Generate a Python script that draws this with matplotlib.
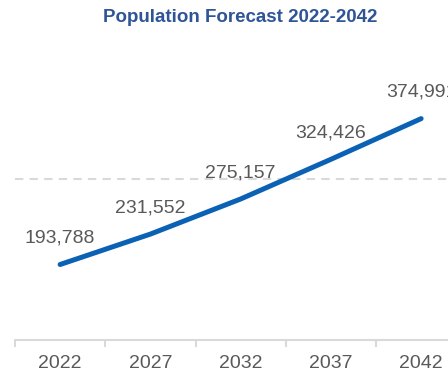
import matplotlib
matplotlib.use("Agg")
import matplotlib.pyplot as plt

# chart data
years = ["2022", "2027", "2032", "2037", "2042"]
population = [193788, 231552, 275157, 324426, 374991]

LINE_BLUE = "#0B62B5"
TEXT_GREY = "#595959"
GRID_GREY = "#D9D9D9"

plt.rcParams["font.family"] = ["Liberation Sans", "DejaVu Sans"]

fig = plt.figure(figsize=(4.48, 3.76), dpi=100)
# axes runs off the right edge, like the cropped original
ax = fig.add_axes([15 / 448, 1 - 340 / 376, 433 / 448, 322 / 376])

x = list(range(len(years)))
ax.plot(x, population, color=LINE_BLUE, linewidth=3.6, solid_capstyle="round", zorder=3)

for xi, val in zip(x, population):
    ax.annotate(f"{val:,}", (xi, val), xytext=(0, 19), textcoords="offset points",
                ha="center", va="center", fontsize=14, color=TEXT_GREY)

# single dashed gridline
ax.axhline(300000, color=GRID_GREY, linestyle=(0, (4, 3)), linewidth=1.5, zorder=1)

ax.set_xticks([i - 0.5 for i in range(len(years) + 1)])
ax.set_xticklabels([])
ax.set_xticks(x, minor=True)
ax.set_xticklabels(years, minor=True)
ax.tick_params(axis="x", which="major", length=5, width=1.5, color=GRID_GREY, direction="out")
ax.tick_params(axis="x", which="minor", length=0, pad=11, labelsize=14, labelcolor=TEXT_GREY)
ax.set_yticks([])

# limits after ticks so set_xticks doesn't widen them
ax.set_xlim(-0.5, -0.5 + 433 / 90.25)
ax.set_ylim(100000, 500000)

for side in ["top", "right", "left"]:
    ax.spines[side].set_visible(False)
ax.spines["bottom"].set_color(GRID_GREY)
ax.spines["bottom"].set_linewidth(1.5)

fig.text(240 / 448, 1 - 18 / 376, "Population Forecast 2022-2042", ha="center", va="center",
         fontsize=13.5, fontweight="bold", color="#2F5597")

fig.savefig("out.png", dpi=100)
